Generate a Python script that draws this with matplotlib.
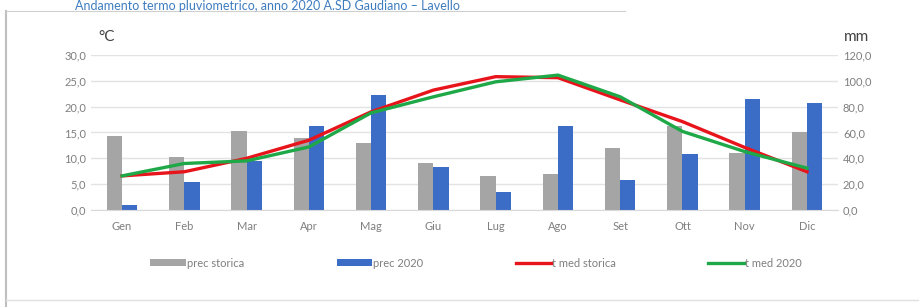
import numpy as np
import matplotlib.pyplot as plt
from matplotlib.lines import Line2D

plt.rcParams['font.family'] = ['Lato', 'DejaVu Sans']

mesi = ['Gen', 'Feb', 'Mar', 'Apr', 'Mag', 'Giu', 'Lug', 'Ago', 'Set', 'Ott', 'Nov', 'Dic']
prec_storica = [57, 41, 61, 56, 52, 36, 26, 28, 48, 65, 44, 60]
prec_2020 = [3.5, 22, 38, 65, 89, 33, 14, 65, 23, 43, 86, 83]
t_med_storica = [6.6, 7.4, 10.0, 13.5, 19.0, 23.2, 25.8, 25.6, 21.3, 17.1, 12.1, 7.4]
t_med_2020 = [6.6, 9.0, 9.5, 12.2, 18.8, 21.9, 24.8, 26.1, 21.9, 15.2, 11.3, 8.1]

gray = '#A5A5A5'
blue = '#3B6CC6'
red = '#E8141B'
green = '#1FA848'
txt = '#7F7F7F'

fig = plt.figure(figsize=(9.19, 3.07), dpi=100)

# cornice
fig.add_artist(Line2D([0.006, 0.006], [0.0, 0.965], color='#BFBFBF', lw=1.5))
fig.add_artist(Line2D([0.006, 0.68], [0.965, 0.965], color='#D0D0D0', lw=0.8))
fig.add_artist(Line2D([0.006, 1.0], [0.022, 0.022], color='#E0E0E0', lw=1.0))
fig.text(0.082, 0.999, 'Andamento termo pluviometrico, anno 2020 A.SD Gaudiano \u2013 Lavello',
         color='#3E7CC0', fontsize=9, va='top', ha='left')

ax = fig.add_axes([0.099, 0.316, 0.813, 0.505])
ax2 = ax.twinx()
ax.set_zorder(ax2.get_zorder() + 1)
ax.patch.set_visible(False)

x = np.arange(len(mesi))
w = 0.245
ax2.bar(x - w / 2, prec_storica, width=w, color=gray, label='prec storica')
ax2.bar(x + w / 2, prec_2020, width=w, color=blue, label='prec 2020')
ax.plot(x, t_med_storica, color=red, lw=2.4, label='t med storica')
ax.plot(x, t_med_2020, color=green, lw=2.4, label='t med 2020')

ax.set_xlim(-0.5, 11.5)
ax.set_ylim(0, 30)
ax2.set_ylim(0, 120)
ax.set_yticks(np.arange(0, 31, 5))
ax2.set_yticks(np.arange(0, 121, 20))
ax.set_yticklabels([f'{v:.1f}'.replace('.', ',') for v in np.arange(0, 31, 5)])
ax2.set_yticklabels([f'{v:.1f}'.replace('.', ',') for v in np.arange(0, 121, 20)])
ax.set_xticks(x)
ax.set_xticklabels(mesi)

for a in (ax, ax2):
    for s in a.spines.values():
        s.set_visible(False)
    a.tick_params(length=0, colors=txt, labelsize=8)
ax.tick_params(axis='x', pad=8)
ax2.spines['bottom'].set_visible(True)
ax2.spines['bottom'].set_color('#D9D9D9')
ax2.set_axisbelow(True)
ax2.grid(axis='y', color='#E3E3E3', lw=1)

fig.text(0.107, 0.865, '\u00b0C', fontsize=11, color='#404040', ha='left')
fig.text(0.918, 0.865, 'mm', fontsize=11, color='#404040', ha='left')

h1, l1 = ax2.get_legend_handles_labels()
h2, l2 = ax.get_legend_handles_labels()
fig.legend(h1 + h2, l1 + l2, loc='center', bbox_to_anchor=(0.518, 0.143), ncol=4,
           frameon=False, fontsize=8, labelcolor=txt, handlelength=3.2,
           handletextpad=0.1, columnspacing=8.3, handleheight=0.6)

fig.savefig('out.png', dpi=100)
